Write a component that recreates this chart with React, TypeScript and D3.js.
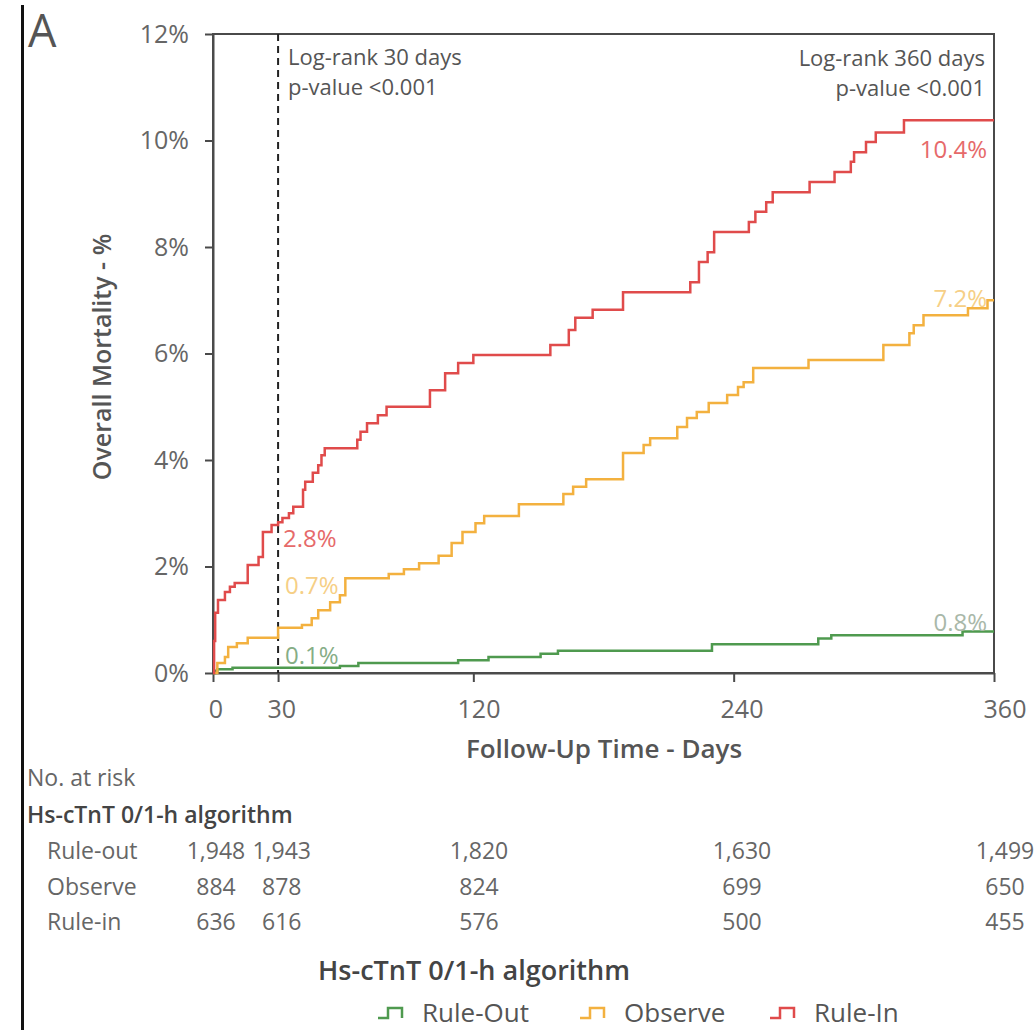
import React, { useEffect, useRef } from "react";
import * as d3 from "d3";

// Kaplan-Meier style cumulative mortality (days, %)
const ruleOutDays = [0, 1, 2, 9, 58.5, 67, 113, 127, 151, 159, 230, 279, 285, 345.5, 360];
const ruleOutPct = [0, 0.04, 0.07, 0.1, 0.13, 0.19, 0.24, 0.3, 0.36, 0.42, 0.54, 0.65, 0.71, 0.78, 0.78];

const observeDays = [0, 2, 5.5, 7, 11, 16, 30, 41, 45.5, 48.5, 54, 58.5, 61, 81, 88, 95, 104, 110, 115, 121, 125, 141, 161.5, 166, 172, 189, 198.5, 201.5, 214, 218.5, 223, 228.5, 237, 242, 244.6, 249, 274.5, 309, 321, 323, 327.5, 348, 357, 360];
const observePct = [0, 0.19, 0.3, 0.49, 0.56, 0.66, 0.85, 0.9, 1.03, 1.18, 1.33, 1.46, 1.78, 1.86, 1.95, 2.06, 2.2, 2.44, 2.65, 2.81, 2.95, 3.17, 3.36, 3.5, 3.64, 4.13, 4.28, 4.41, 4.62, 4.79, 4.9, 5.07, 5.22, 5.37, 5.46, 5.73, 5.88, 6.16, 6.38, 6.53, 6.72, 6.85, 7.0, 7.0];

const ruleInDays = [0, 0.5, 1, 2.3, 5.5, 7.8, 10, 16, 21, 23, 27, 30, 32, 35, 37, 41.5, 42.5, 46, 48.5, 50, 51.5, 66.5, 68, 71, 76, 80, 100, 107, 113, 120, 155.5, 164, 167, 175, 189, 220, 224, 228, 231, 247, 250, 255, 258, 275, 286.5, 294, 295.5, 301, 305.5, 318.5, 360];
const ruleInPct = [0, 0.6, 1.13, 1.37, 1.52, 1.62, 1.69, 2.03, 2.18, 2.65, 2.78, 2.83, 2.91, 3.0, 3.12, 3.44, 3.59, 3.76, 3.9, 4.09, 4.22, 4.38, 4.53, 4.69, 4.84, 5.0, 5.31, 5.63, 5.82, 5.97, 6.16, 6.44, 6.67, 6.82, 7.15, 7.34, 7.72, 7.9, 8.28, 8.47, 8.66, 8.84, 9.03, 9.22, 9.41, 9.6, 9.78, 9.97, 10.15, 10.38, 10.38];

const xTicks = [0, 30, 120, 240, 360];
const yTicks = [0, 2, 4, 6, 8, 10, 12];

const groups = ["Rule-out", "Observe", "Rule-in"];
const atRisk = [
  [1948, 1943, 1820, 1630, 1499],
  [884, 878, 824, 699, 650],
  [636, 616, 576, 500, 455],
];

const legendNames = ["Rule-Out", "Observe", "Rule-In"];
const colors = ["#4f9a4f", "#f3b13f", "#e04b4b"];

const FONT = "'Open Sans', sans-serif";

const App = () => {
  const ref = useRef<SVGSVGElement>(null);

  useEffect(() => {
    const svg = d3.select(ref.current);
    svg.selectAll("*").remove();

    const x = d3.scaleLinear().domain([0, 360]).range([213, 994]);
    const y = d3.scaleLinear().domain([0, 12]).range([673, 34]);
    // labels below the axis sit a little to the right of their ticks
    const xLab = d3.scaleLinear().domain([0, 360]).range([216, 1005]);

    svg.append("rect").attr("width", 1035).attr("height", 1030).attr("fill", "#fff");

    // panel bar and letter
    svg.append("line").attr("x1", 22.5).attr("x2", 22.5).attr("y1", 5).attr("y2", 1030)
      .attr("stroke", "#111").attr("stroke-width", 3);
    svg.append("text").attr("x", 28).attr("y", 47).text("A")
      .attr("font-size", 45).attr("fill", "#555").attr("font-family", FONT);

    // frame
    svg.append("rect").attr("x", x(0)).attr("y", y(12)).attr("width", x(360) - x(0)).attr("height", y(0) - y(12))
      .attr("fill", "none").attr("stroke", "#4a4a4a").attr("stroke-width", 2);

    // axes
    const gy = svg.append("g").attr("transform", `translate(${x(0)},0)`)
      .call(d3.axisLeft(y).tickValues(yTicks).tickSize(8).tickSizeOuter(0).tickPadding(16).tickFormat(d => `${d}%`));
    gy.select(".domain").attr("stroke", "#4a4a4a").attr("stroke-width", 2);
    gy.selectAll(".tick line").attr("stroke", "#4a4a4a").attr("stroke-width", 2);
    gy.selectAll(".tick text").attr("font-size", 25).attr("fill", "#666").attr("font-family", FONT);

    const gx = svg.append("g").attr("transform", `translate(0,${y(0)})`)
      .call(d3.axisBottom(x).tickValues(xTicks).tickSize(9).tickSizeOuter(0).tickFormat(() => ""));
    gx.select(".domain").attr("stroke", "#4a4a4a").attr("stroke-width", 2);
    gx.selectAll(".tick line").attr("stroke", "#4a4a4a").attr("stroke-width", 2);

    svg.append("g").selectAll("text").data(xTicks).join("text")
      .attr("x", d => xLab(d)).attr("y", 718).attr("text-anchor", "middle")
      .attr("font-size", 25).attr("fill", "#666").attr("font-family", FONT).text(d => d);

    // axis titles
    svg.append("text").attr("transform", "translate(111,357) rotate(-90)").attr("text-anchor", "middle")
      .attr("font-size", 25).attr("font-weight", 600).attr("fill", "#555").attr("font-family", FONT)
      .text("Overall Mortality - %");
    svg.append("text").attr("x", 604).attr("y", 758).attr("text-anchor", "middle")
      .attr("font-size", 26).attr("font-weight", 600).attr("fill", "#555").attr("font-family", FONT)
      .text("Follow-Up Time - Days");

    // 30-day landmark
    svg.append("line").attr("x1", x(30)).attr("x2", x(30)).attr("y1", y(12)).attr("y2", y(0))
      .attr("stroke", "#222").attr("stroke-width", 2).attr("stroke-dasharray", "7,5");

    // log-rank notes, two lines each
    const note = (tx: number, ty: number, anchor: string, lines: string[]) => {
      const t = svg.append("text").attr("y", ty).attr("text-anchor", anchor)
        .attr("font-size", 22).attr("fill", "#555").attr("font-family", FONT);
      lines.forEach((s, i) => t.append("tspan").attr("x", tx).attr("dy", i ? 30 : 0).text(s));
    };
    note(288, 65, "start", ["Log-rank 30 days", "p-value <0.001"]);
    note(985, 66, "end", ["Log-rank 360 days", "p-value <0.001"]);

    // curves
    const line = d3.line<[number, number]>().x(d => x(d[0])).y(d => y(d[1])).curve(d3.curveStepAfter);
    const series: [number[], number[]][] = [
      [ruleOutDays, ruleOutPct],
      [observeDays, observePct],
      [ruleInDays, ruleInPct],
    ];
    series.forEach(([days, pct], i) => {
      svg.append("path").datum(days.map((d, j) => [d, pct[j]] as [number, number]))
        .attr("d", line).attr("fill", "none").attr("stroke", colors[i]).attr("stroke-width", 2.5);
    });

    // value labels
    const lab = (tx: number, ty: number, anchor: string, fill: string, s: string) =>
      svg.append("text").attr("x", tx).attr("y", ty).attr("text-anchor", anchor)
        .attr("font-size", 24).attr("fill", fill).attr("font-family", FONT).text(s);
    lab(283, 547, "start", "#e66a6a", "2.8%");
    lab(285, 594, "start", "#f6cf86", "0.7%");
    lab(285, 664, "start", "#86ad86", "0.1%");
    lab(987, 158, "end", "#e66a6a", "10.4%");
    lab(987, 307, "end", "#f6cf86", "7.2%");
    lab(987, 631, "end", "#a9b8a9", "0.8%");

    // numbers at risk
    const tf = (s: string, tx: number, ty: number) =>
      svg.append("text").attr("x", tx).attr("y", ty).attr("font-size", 23).attr("fill", "#666")
        .attr("font-family", FONT).text(s);
    tf("No. at risk", 27, 786);
    tf("Hs-cTnT 0/1-h algorithm", 27, 823).attr("font-weight", 600).attr("fill", "#444");
    groups.forEach((g, i) => {
      const ty = 859 + i * 35.5;
      tf(g, 47, ty);
      svg.append("g").selectAll("text").data(atRisk[i]).join("text")
        .attr("x", (_, k) => xLab(xTicks[k])).attr("y", ty).attr("text-anchor", "middle")
        .attr("font-size", 23).attr("fill", "#666").attr("font-family", FONT)
        .text(d => d3.format(",")(d));
    });

    // legend
    svg.append("text").attr("x", 474).attr("y", 980).attr("text-anchor", "middle")
      .attr("font-size", 27).attr("font-weight", 600).attr("fill", "#444").attr("font-family", FONT)
      .text("Hs-cTnT 0/1-h algorithm");
    const legX = [378, 580, 770];
    legendNames.forEach((n, i) => {
      const g = svg.append("g").attr("transform", `translate(${legX[i]},1008)`);
      g.append("path").attr("d", "M0,10 H10 V0 H24 V10").attr("fill", "none")
        .attr("stroke", colors[i]).attr("stroke-width", 2.5);
      g.append("text").attr("x", 44).attr("y", 14).attr("font-size", 26).attr("fill", "#555")
        .attr("font-family", FONT).text(n);
    });
  }, []);

  return (
    <svg ref={ref} width={1035} height={1030}
      style={{ position: "absolute", left: 0, top: 0, display: "block" }} />
  );
};

export default App;
